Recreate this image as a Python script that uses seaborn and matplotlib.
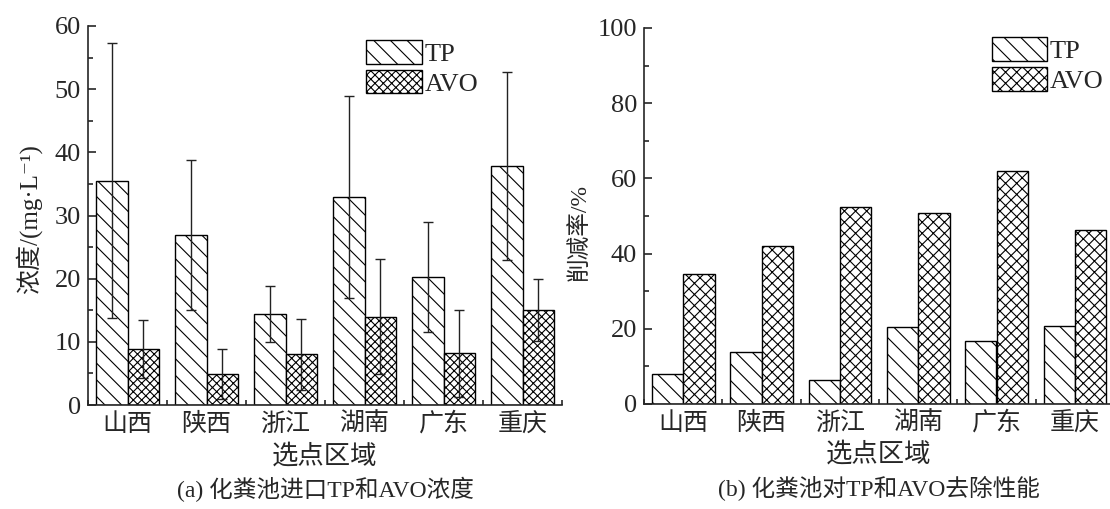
import numpy as np
import pandas as pd
import seaborn as sns
from matplotlib import pyplot as plt
from matplotlib.ticker import MultipleLocator, FixedLocator

regions = ["山西", "陕西", "浙江", "湖南", "广东", "重庆"]
items = ["TP", "AVO"]

conc_tp = [35.5, 26.9, 14.4, 32.9, 20.3, 37.8]
conc_tp_err = [21.8, 11.9, 4.5, 16.0, 8.7, 14.9]
conc_avo = [8.8, 4.9, 8.0, 14.0, 8.2, 15.0]
conc_avo_err = [4.6, 4.0, 5.6, 9.1, 6.9, 4.9]

rem_tp = [8.1, 13.7, 6.5, 20.5, 16.8, 20.8]
rem_avo = [34.5, 42.0, 52.4, 50.7, 62.1, 46.3]

SERIF = ["Liberation Serif", "DejaVu Serif", "Noto Sans CJK SC"]
CJK = ["Noto Sans CJK SC", "DejaVu Sans"]

sns.set_theme(style="ticks")
plt.rcParams["font.family"] = SERIF
plt.rcParams["hatch.linewidth"] = 0.8
plt.rcParams["axes.linewidth"] = 1.2


def long_df(tp, avo):
    return pd.DataFrame({
        "region": regions * 2,
        "item": ["TP"] * 6 + ["AVO"] * 6,
        "value": list(tp) + list(avo),
    })


def draw(ax, df, hatches, ylim, major, minor, ylabel, ylab_xy, caption, cap_y,
         errs=None, leg_anchor=(0.58, 0.99), ylab_size=18):
    sns.barplot(data=df, x="region", y="value", hue="item", hue_order=items,
                palette=["white", "white"], edgecolor="black", linewidth=1.0,
                width=0.8, gap=0, errorbar=None, legend=False, ax=ax, zorder=2)
    for cont, h in zip(ax.containers, hatches):
        for p in cont:
            p.set_hatch(h)
    if errs is not None:
        for cont, e in zip(ax.containers, errs):
            xs = [p.get_x() + p.get_width() / 2 for p in cont]
            ys = [p.get_height() for p in cont]
            ax.errorbar(xs, ys, yerr=e, fmt="none", ecolor="#222222",
                        elinewidth=1.0, capsize=3.5, capthick=1.0, zorder=3)
    ax.set_xlim(-0.5, 5.5)
    ax.set_ylim(*ylim)
    ax.yaxis.set_major_locator(MultipleLocator(major))
    ax.yaxis.set_minor_locator(MultipleLocator(minor))
    ax.xaxis.set_minor_locator(FixedLocator(np.arange(-0.5, 6, 1.0)))
    ax.tick_params(axis="y", which="major", direction="in", length=6, width=1.2,
                   labelsize=19, pad=5)
    ax.tick_params(axis="y", which="minor", direction="in", length=3.5, width=1.2)
    ax.tick_params(axis="x", which="major", length=0, pad=4)
    ax.tick_params(axis="x", which="minor", direction="in", length=3.5, width=1.2)
    for lab in ax.get_xticklabels():
        lab.set_family(CJK)
        lab.set_fontsize(18)
    for lab in ax.get_yticklabels():
        lab.set_family(SERIF)
    ax.set_xlabel("选点区域", family=CJK, fontsize=19)
    ax.xaxis.set_label_coords(0.5, -0.098)
    ax.set_ylabel(ylabel, fontsize=ylab_size)
    ax.yaxis.set_label_coords(*ylab_xy)
    sns.despine(ax=ax)
    ax.legend(ax.containers, items, loc="upper left", bbox_to_anchor=leg_anchor,
              frameon=False, fontsize=19, handlelength=2.1, handleheight=1.0,
              handletextpad=0.1, labelspacing=0.15, borderaxespad=0, borderpad=0)
    ax.text(0.5, cap_y, caption, transform=ax.transAxes, ha="center", va="center",
            fontsize=17, family=SERIF)


fig = plt.figure(figsize=(11.1, 5.09), dpi=100)
ax1 = fig.add_axes([88 / 1110, (509 - 405) / 509, 474 / 1110, 379 / 509])
ax2 = fig.add_axes([644 / 1110, (509 - 404) / 509, 470 / 1110, 376 / 509])

draw(ax1, long_df(conc_tp, conc_avo), ["\\\\", "xxxx"], (0, 60), 10, 5,
     "浓度/(mg·L⁻¹)", (-0.097, 0.49), "(a) 化粪池进口TP和AVO浓度", -0.222,
     errs=[conc_tp_err, conc_avo_err], leg_anchor=(0.587, 0.963))
draw(ax2, long_df(rem_tp, rem_avo), ["\\\\", "xxx"], (0, 100), 20, 10,
     "削减率/%", (-0.113, 0.457), "(b) 化粪池对TP和AVO去除性能", -0.226,
     leg_anchor=(0.74, 0.975), ylab_size=17)

fig.savefig("out.png", dpi=100)
